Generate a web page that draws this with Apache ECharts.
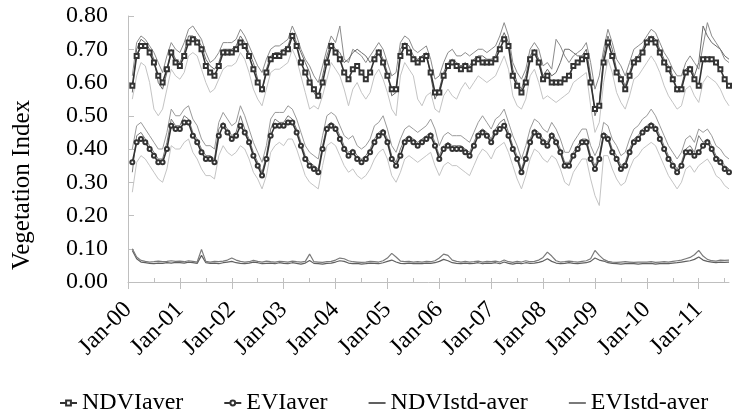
<!DOCTYPE html>
<html>
<head>
<meta charset="utf-8">
<script src="https://cdn.jsdelivr.net/npm/echarts@6/dist/echarts.min.js"></script>
<style>
html,body{margin:0;padding:0;background:#fff;}
#chart{width:734px;height:416px;}
</style>
</head>
<body>
<div id="chart"></div>
<script>
// Monthly categories Jan-2000 .. Aug-2011
const years = ['00','01','02','03','04','05','06','07','08','09','10','11'];
const monthNames = ['Jan','Feb','Mar','Apr','May','Jun','Jul','Aug','Sep','Oct','Nov','Dec'];
const lastMonthCount = 8; // months shown in 2011
const tickLabels = ['Jan-00','Jan-01','Jan-02','Jan-03','Jan-04','Jan-05','Jan-06','Jan-07','Jan-08','Jan-09','Jan-10','Jan-11'];
const yTicks = [0, 0.1, 0.2, 0.3, 0.4, 0.5, 0.6, 0.7, 0.8];

const NDVIaver = [
 null,0.59,0.68,0.71,0.71,0.69,0.66,0.62,0.60,0.64,0.69,0.66,
 0.65,0.68,0.72,0.73,0.72,0.70,0.65,0.63,0.62,0.65,0.69,0.69,
 0.69,0.70,0.72,0.71,0.68,0.64,0.60,0.58,0.63,0.67,0.68,0.68,
 0.69,0.70,0.74,0.71,0.66,0.63,0.60,0.58,0.56,0.60,0.66,0.71,
 0.69,0.67,0.63,0.61,0.64,0.65,0.63,0.61,0.63,0.67,0.69,0.66,
 0.62,0.58,0.58,0.68,0.71,0.69,0.67,0.66,0.67,0.68,0.63,0.57,
 0.57,0.62,0.65,0.66,0.65,0.64,0.65,0.64,0.66,0.67,0.66,0.66,
 0.66,0.67,0.70,0.73,0.71,0.62,0.59,0.57,0.60,0.67,0.69,0.66,
 0.61,0.62,0.60,0.60,0.60,0.61,0.62,0.65,0.66,0.67,0.68,0.60,
 0.52,0.53,0.66,0.72,0.68,0.63,0.61,0.58,0.62,0.66,0.67,0.69,
 0.72,0.73,0.72,0.69,0.66,0.64,0.61,0.58,0.58,0.63,0.64,0.61,
 0.59,0.67,0.67,0.67,0.66,0.64,0.61,0.59
];
const EVIaver = [
 null,0.36,0.42,0.43,0.42,0.40,0.38,0.36,0.36,0.40,0.47,0.46,
 0.46,0.48,0.48,0.44,0.42,0.39,0.37,0.37,0.36,0.44,0.47,0.45,
 0.43,0.44,0.47,0.45,0.42,0.38,0.35,0.32,0.37,0.44,0.47,0.47,
 0.47,0.48,0.48,0.45,0.41,0.37,0.35,0.34,0.33,0.40,0.46,0.47,
 0.46,0.43,0.40,0.38,0.39,0.37,0.36,0.37,0.39,0.42,0.44,0.45,
 0.42,0.37,0.35,0.38,0.42,0.43,0.42,0.41,0.42,0.43,0.44,0.41,
 0.37,0.40,0.41,0.40,0.40,0.40,0.39,0.38,0.41,0.44,0.45,0.44,
 0.42,0.45,0.46,0.47,0.44,0.40,0.37,0.33,0.37,0.42,0.45,0.44,
 0.42,0.41,0.44,0.42,0.39,0.35,0.35,0.38,0.40,0.42,0.42,0.37,
 0.34,0.37,0.44,0.43,0.39,0.37,0.34,0.35,0.39,0.42,0.43,0.45,
 0.46,0.47,0.46,0.43,0.40,0.37,0.35,0.33,0.35,0.39,0.39,0.38,
 0.39,0.41,0.42,0.40,0.37,0.36,0.34,0.33
];
const NDVIstdAver = [
 null,0.095,0.070,0.060,0.058,0.056,0.055,0.057,0.056,0.058,0.057,0.059,
 0.058,0.057,0.060,0.058,0.056,0.080,0.058,0.056,0.057,0.055,0.058,0.060,
 0.062,0.058,0.056,0.055,0.057,0.060,0.058,0.055,0.056,0.057,0.055,0.058,
 0.056,0.055,0.058,0.056,0.054,0.057,0.065,0.056,0.055,0.054,0.056,0.057,
 0.060,0.064,0.062,0.057,0.055,0.056,0.054,0.055,0.057,0.056,0.055,0.058,
 0.062,0.066,0.060,0.056,0.055,0.057,0.055,0.056,0.055,0.057,0.056,0.058,
 0.062,0.068,0.064,0.058,0.056,0.055,0.057,0.055,0.056,0.058,0.055,0.057,
 0.056,0.058,0.055,0.060,0.056,0.054,0.057,0.055,0.058,0.056,0.057,0.059,
 0.063,0.070,0.062,0.057,0.055,0.056,0.058,0.056,0.055,0.057,0.058,0.062,
 0.072,0.066,0.063,0.058,0.056,0.055,0.054,0.055,0.056,0.055,0.054,0.055,
 0.055,0.056,0.054,0.055,0.056,0.055,0.057,0.058,0.060,0.062,0.064,0.068,
 0.075,0.066,0.062,0.060,0.058,0.060,0.059,0.060
];
const EVIstdAver = [
 null,0.100,0.075,0.065,0.062,0.060,0.061,0.063,0.061,0.062,0.064,0.062,
 0.063,0.061,0.064,0.062,0.060,0.098,0.062,0.060,0.062,0.061,0.063,0.066,
 0.072,0.066,0.062,0.060,0.061,0.065,0.062,0.060,0.063,0.061,0.060,0.062,
 0.061,0.060,0.063,0.061,0.060,0.062,0.084,0.061,0.060,0.059,0.061,0.062,
 0.066,0.072,0.070,0.064,0.061,0.060,0.059,0.060,0.062,0.061,0.060,0.064,
 0.072,0.086,0.075,0.063,0.061,0.062,0.060,0.061,0.060,0.062,0.061,0.064,
 0.072,0.084,0.080,0.066,0.062,0.060,0.062,0.060,0.061,0.063,0.060,0.062,
 0.061,0.063,0.060,0.066,0.061,0.059,0.062,0.060,0.064,0.061,0.062,0.066,
 0.074,0.090,0.078,0.064,0.060,0.061,0.063,0.061,0.060,0.062,0.064,0.070,
 0.095,0.080,0.068,0.062,0.060,0.059,0.060,0.061,0.060,0.059,0.060,0.060,
 0.060,0.061,0.059,0.060,0.061,0.060,0.062,0.064,0.066,0.070,0.074,0.082,
 0.095,0.078,0.068,0.064,0.063,0.066,0.065,0.066
];
// individual member lines (grey cloud)
const NDVIhigh = [
 null,0.62,0.72,0.74,0.73,0.71,0.69,0.66,0.63,0.68,0.72,0.70,
 0.69,0.72,0.76,0.77,0.75,0.73,0.69,0.66,0.67,0.69,0.72,0.72,
 0.72,0.73,0.76,0.74,0.71,0.68,0.65,0.63,0.67,0.70,0.71,0.71,
 0.72,0.73,0.77,0.74,0.70,0.67,0.65,0.62,0.60,0.65,0.70,0.74,
 0.72,0.77,0.67,0.66,0.70,0.69,0.68,0.66,0.68,0.70,0.72,0.70,
 0.66,0.62,0.63,0.72,0.74,0.73,0.70,0.69,0.70,0.71,0.67,0.61,
 0.62,0.66,0.69,0.70,0.68,0.68,0.69,0.68,0.69,0.70,0.70,0.69,
 0.70,0.71,0.74,0.78,0.74,0.66,0.63,0.61,0.64,0.70,0.72,0.70,
 0.65,0.66,0.64,0.73,0.71,0.68,0.66,0.68,0.69,0.70,0.72,0.66,
 0.58,0.62,0.70,0.76,0.72,0.67,0.65,0.62,0.66,0.70,0.71,0.72,
 0.74,0.76,0.75,0.72,0.69,0.67,0.64,0.62,0.62,0.66,0.68,0.66,
 0.64,0.71,0.78,0.74,0.72,0.70,0.67,0.66
];
const NDVImid = [
 null,0.57,0.70,0.73,0.72,0.70,0.67,0.60,0.58,0.63,0.70,0.67,
 0.66,0.69,0.74,0.74,0.73,0.71,0.67,0.65,0.64,0.66,0.70,0.70,
 0.70,0.71,0.74,0.72,0.69,0.66,0.61,0.57,0.64,0.68,0.69,0.69,
 0.70,0.71,0.75,0.72,0.69,0.66,0.63,0.57,0.55,0.62,0.68,0.72,
 0.70,0.69,0.66,0.67,0.69,0.70,0.69,0.68,0.66,0.68,0.70,0.67,
 0.63,0.56,0.57,0.70,0.72,0.71,0.68,0.67,0.68,0.69,0.62,0.55,
 0.58,0.63,0.66,0.67,0.66,0.65,0.66,0.65,0.67,0.68,0.68,0.67,
 0.67,0.68,0.72,0.75,0.72,0.64,0.60,0.58,0.62,0.68,0.70,0.67,
 0.62,0.64,0.62,0.63,0.66,0.70,0.70,0.69,0.68,0.68,0.70,0.62,
 0.50,0.54,0.68,0.74,0.70,0.64,0.62,0.59,0.63,0.67,0.68,0.70,
 0.73,0.74,0.73,0.70,0.67,0.65,0.62,0.57,0.59,0.64,0.65,0.62,
 0.66,0.77,0.74,0.72,0.71,0.70,0.68,0.67
];
const NDVIlow = [
 null,0.55,0.62,0.66,0.65,0.60,0.52,0.50,0.52,0.58,0.64,0.62,
 0.61,0.63,0.68,0.69,0.68,0.64,0.60,0.57,0.58,0.61,0.64,0.65,
 0.65,0.66,0.69,0.67,0.63,0.58,0.55,0.53,0.58,0.63,0.64,0.64,
 0.65,0.66,0.70,0.67,0.62,0.57,0.52,0.53,0.52,0.56,0.61,0.66,
 0.64,0.62,0.58,0.53,0.58,0.60,0.57,0.55,0.57,0.62,0.64,0.61,
 0.57,0.52,0.50,0.62,0.66,0.64,0.62,0.55,0.53,0.56,0.57,0.52,
 0.51,0.56,0.58,0.56,0.55,0.58,0.60,0.58,0.60,0.62,0.61,0.60,
 0.61,0.62,0.65,0.68,0.64,0.56,0.53,0.52,0.55,0.62,0.64,0.60,
 0.55,0.56,0.55,0.54,0.55,0.56,0.57,0.60,0.61,0.62,0.63,0.53,
 0.45,0.48,0.60,0.67,0.63,0.57,0.54,0.52,0.56,0.61,0.62,0.64,
 0.66,0.68,0.66,0.63,0.59,0.56,0.54,0.52,0.53,0.58,0.59,0.56,
 0.54,0.60,0.62,0.61,0.60,0.58,0.55,0.53
];
const EVIhigh = [
 null,0.40,0.47,0.48,0.46,0.44,0.42,0.40,0.40,0.45,0.52,0.50,
 0.50,0.52,0.53,0.49,0.47,0.43,0.41,0.41,0.40,0.48,0.51,0.49,
 0.47,0.48,0.53,0.50,0.46,0.42,0.39,0.36,0.41,0.49,0.51,0.51,
 0.51,0.53,0.52,0.49,0.45,0.41,0.39,0.38,0.37,0.44,0.50,0.51,
 0.50,0.47,0.44,0.43,0.44,0.41,0.40,0.41,0.43,0.47,0.48,0.50,
 0.46,0.41,0.39,0.43,0.46,0.47,0.46,0.45,0.46,0.47,0.49,0.46,
 0.41,0.44,0.45,0.44,0.44,0.44,0.43,0.42,0.45,0.48,0.50,0.48,
 0.46,0.49,0.50,0.52,0.48,0.44,0.41,0.37,0.41,0.46,0.49,0.48,
 0.46,0.45,0.48,0.46,0.43,0.39,0.39,0.42,0.44,0.46,0.46,0.41,
 0.38,0.41,0.48,0.47,0.43,0.41,0.38,0.39,0.43,0.46,0.47,0.49,
 0.50,0.52,0.50,0.47,0.44,0.41,0.39,0.37,0.39,0.43,0.44,0.42,
 0.46,0.45,0.46,0.44,0.41,0.40,0.38,0.37
];
const EVImid = [
 null,0.33,0.44,0.45,0.43,0.41,0.39,0.37,0.37,0.42,0.49,0.47,
 0.47,0.50,0.49,0.45,0.43,0.40,0.38,0.38,0.37,0.46,0.48,0.46,
 0.44,0.45,0.50,0.46,0.43,0.39,0.36,0.33,0.38,0.46,0.49,0.48,
 0.48,0.50,0.49,0.46,0.42,0.38,0.36,0.35,0.34,0.41,0.47,0.48,
 0.47,0.44,0.41,0.39,0.40,0.38,0.37,0.38,0.40,0.43,0.45,0.46,
 0.43,0.38,0.36,0.40,0.43,0.44,0.43,0.42,0.43,0.44,0.45,0.42,
 0.38,0.41,0.42,0.41,0.41,0.41,0.40,0.39,0.42,0.45,0.46,0.45,
 0.43,0.46,0.48,0.49,0.45,0.41,0.38,0.34,0.38,0.43,0.46,0.45,
 0.43,0.42,0.45,0.43,0.40,0.36,0.36,0.39,0.41,0.43,0.43,0.38,
 0.35,0.38,0.45,0.44,0.40,0.38,0.35,0.36,0.40,0.43,0.44,0.46,
 0.47,0.48,0.47,0.44,0.41,0.38,0.36,0.34,0.36,0.40,0.41,0.39,
 0.44,0.42,0.43,0.41,0.38,0.37,0.35,0.34
];
const EVIlow = [
 null,0.27,0.36,0.38,0.37,0.35,0.33,0.31,0.30,0.34,0.41,0.40,
 0.40,0.42,0.43,0.39,0.37,0.34,0.32,0.32,0.31,0.38,0.41,0.39,
 0.38,0.39,0.41,0.40,0.37,0.33,0.31,0.28,0.32,0.39,0.41,0.42,
 0.41,0.43,0.43,0.40,0.36,0.32,0.30,0.29,0.28,0.35,0.41,0.42,
 0.41,0.38,0.35,0.33,0.34,0.32,0.31,0.32,0.34,0.37,0.39,0.40,
 0.37,0.32,0.30,0.33,0.37,0.38,0.37,0.36,0.37,0.38,0.39,0.35,
 0.32,0.35,0.36,0.35,0.35,0.34,0.33,0.32,0.35,0.38,0.40,0.39,
 0.37,0.40,0.41,0.42,0.39,0.35,0.31,0.28,0.32,0.37,0.40,0.39,
 0.37,0.36,0.38,0.37,0.34,0.30,0.29,0.33,0.35,0.37,0.37,0.31,
 0.26,0.23,0.38,0.38,0.34,0.31,0.29,0.30,0.34,0.37,0.38,0.40,
 0.41,0.42,0.41,0.38,0.35,0.32,0.30,0.28,0.30,0.34,0.35,0.33,
 0.35,0.36,0.37,0.35,0.32,0.31,0.29,0.28
];

const categories = [];
years.forEach((y, i) => {
  const n = i === years.length - 1 ? lastMonthCount : 12;
  for (let m = 0; m < n; m++) categories.push(monthNames[m] + '-' + y);
});

const FONT = '"Liberation Serif", "Times New Roman", serif';
const AXIS_COLOR = '#bfbfbf';

function member(data, color) {
  return { type: 'line', data: data, symbol: 'none', silent: true,
    lineStyle: { color: color, width: 1 }, z: 1 };
}

const chart = echarts.init(document.getElementById('chart'), null, { renderer: 'canvas' });
chart.setOption({
  animation: false,
  backgroundColor: '#fff',
  textStyle: { fontFamily: FONT },
  grid: { left: 128, right: 5, top: 16, bottom: 134, containLabel: false },
  legend: {
    data: [
      { name: 'NDVIaver' },
      { name: 'EVIaver' },
      { name: 'NDVIstd-aver', itemStyle: { opacity: 0 } },
      { name: 'EVIstd-aver', itemStyle: { opacity: 0 } }
    ],
    left: 54, top: 386, width: 700, itemWidth: 17, itemHeight: 6, itemGap: 40,
    textStyle: { fontFamily: FONT, fontSize: 24, color: '#000' }
  },
  xAxis: [{
    type: 'category', data: categories, boundaryGap: false,
    axisLine: { lineStyle: { color: AXIS_COLOR } },
    axisTick: { interval: 11, length: 7, lineStyle: { color: AXIS_COLOR } },
    axisLabel: { interval: 11, rotate: 45, margin: 24, fontSize: 24, color: '#000', fontFamily: FONT,
      formatter: (v) => tickLabels.indexOf(v) >= 0 ? v : '' },
    splitLine: { show: false }
  }, {
    type: 'category', data: categories, boundaryGap: false, position: 'bottom',
    axisLine: { show: false },
    axisTick: { interval: 5, inside: true, length: 4, lineStyle: { color: AXIS_COLOR } },
    axisLabel: { show: false }, splitLine: { show: false }
  }],
  yAxis: {
    type: 'value', min: 0, max: 0.8, interval: 0.1,
    axisLine: { show: true, lineStyle: { color: AXIS_COLOR } },
    axisTick: { show: true, inside: true, length: 6, lineStyle: { color: AXIS_COLOR } },
    axisLabel: { margin: 20, fontSize: 24, color: '#000', fontFamily: FONT,
      formatter: (v) => v.toFixed(2) },
    splitLine: { show: false }
  },
  graphic: [{
    type: 'text', left: 10, top: 100, rotation: Math.PI / 2,
    style: { text: 'Vegetation Index', font: '25px ' + FONT, fill: '#000' }
  }],
  series: [
    member(NDVIlow, '#c4c4c4'),
    member(NDVIhigh, '#8c8c8c'),
    member(NDVImid, '#6a6a6a'),
    member(EVIlow, '#c4c4c4'),
    member(EVIhigh, '#9a9a9a'),
    member(EVImid, '#7a7a7a'),
    { name: 'NDVIstd-aver', type: 'line', data: NDVIstdAver, symbol: 'none',
      lineStyle: { color: '#606060', width: 1.2 }, itemStyle: { color: '#606060' }, z: 2 },
    { name: 'EVIstd-aver', type: 'line', data: EVIstdAver, symbol: 'none',
      lineStyle: { color: '#7a7a7a', width: 1.2 }, itemStyle: { color: '#7a7a7a' }, z: 2 },
    { name: 'NDVIaver', type: 'line', data: NDVIaver, symbol: 'emptyRect', symbolSize: 4, showAllSymbol: true,
      lineStyle: { color: '#333', width: 1.6 }, itemStyle: { color: '#333', borderWidth: 1 }, z: 3 },
    { name: 'EVIaver', type: 'line', data: EVIaver, symbol: 'emptyCircle', symbolSize: 4, showAllSymbol: true,
      lineStyle: { color: '#333', width: 1.6 }, itemStyle: { color: '#333', borderWidth: 1 }, z: 3 }
  ]
});
</script>
</body>
</html>
